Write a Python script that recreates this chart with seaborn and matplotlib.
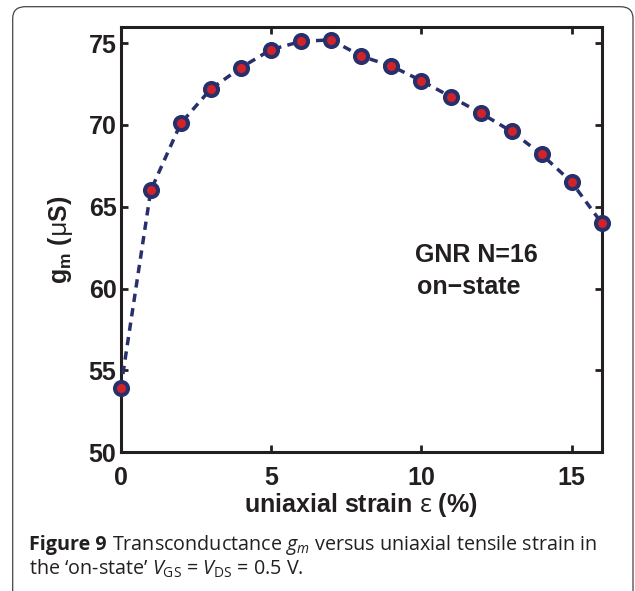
import matplotlib
matplotlib.use("Agg")
import matplotlib.pyplot as plt
from matplotlib.patches import FancyBboxPatch
import seaborn as sns
import pandas as pd

# Transconductance of the GNR (N=16) FET in the on-state vs. uniaxial strain
strain = [0, 1, 2, 3, 4, 5, 6, 7, 8, 9, 10, 11, 12, 13, 14, 15, 16]
gm = [53.9, 66.0, 70.1, 72.2, 73.5, 74.6, 75.1, 75.2, 74.2, 73.6,
      72.7, 71.7, 70.7, 69.6, 68.2, 66.5, 64.0]
x_ticks = [0, 5, 10, 15]
y_ticks = [50, 55, 60, 65, 70, 75]

NAVY = "#28306c"
RED = "#d2232a"
INK = "#231f20"

sns.set_style("ticks")
plt.rcParams["font.family"] = ["Liberation Sans", "DejaVu Sans"]
plt.rcParams["mathtext.fontset"] = "custom"
plt.rcParams["mathtext.rm"] = "Open Sans"
plt.rcParams["mathtext.it"] = "Open Sans:italic"
plt.rcParams["mathtext.bf"] = "Liberation Sans:bold"

W, H = 635, 591
fig = plt.figure(figsize=(W / 100, H / 100), dpi=100)
ax = fig.add_axes([120.7 / W, 1 - 452.3 / H, 481 / W, 425.6 / H])

df = pd.DataFrame({"strain": strain, "gm": gm})
sns.lineplot(data=df, x="strain", y="gm", ax=ax, color=NAVY,
             linewidth=2.5, dashes=False, marker="o", markersize=9.4,
             markerfacecolor=RED, markeredgecolor=NAVY, markeredgewidth=2.9)
curve = ax.lines[0]
curve.set_linestyle((0, (2.4, 1.8)))
curve.set_clip_on(False)
curve.set_zorder(5)

ax.set_xlim(0, 16)
ax.set_ylim(50, 76)
ax.set_xticks(x_ticks)
ax.set_yticks(y_ticks)
ax.tick_params(direction="in", length=5, width=2, top=True, right=True,
               labelsize=18, colors=INK)
ax.tick_params(axis="x", pad=10)
ax.tick_params(axis="y", pad=3)
for lab in ax.get_xticklabels() + ax.get_yticklabels():
    lab.set_fontweight("bold")
for sp in ax.spines.values():
    sp.set_linewidth(2.2)
    sp.set_color(INK)

ax.set_xlabel(r"uniaxial strain $\mathrm{ε}$ (%)", fontsize=18,
              fontweight="bold", color=INK)
ax.set_ylabel(r"$\mathbf{g_m}$ ($\mathrm{μ}$S)", fontsize=18,
              fontweight="bold", color=INK)
ax.xaxis.set_label_coords(0.5, -0.092)
ax.yaxis.set_label_coords(-0.095, 0.5)

ax.text(9.79, 61.62, "GNR N=16", fontsize=18, fontweight="bold", color=INK,
        va="baseline", ha="left")
ax.text(9.85, 59.65, "on\u2212state", fontsize=18, fontweight="bold", color=INK,
        va="baseline", ha="left")

# Rounded frame around the figure panel
frame = FancyBboxPatch((12.7 / W, -30 / H), (633 - 12.7) / W, (H - 6.7 + 30) / H,
                       boxstyle="round,pad=0,rounding_size=0.02",
                       transform=fig.transFigure, facecolor="none",
                       edgecolor="#444444", linewidth=0.9, clip_on=False)
fig.patches.append(frame)

# Caption
cap_kw = dict(fontsize=14.2, family="Open Sans", color=INK, va="baseline")
t1 = fig.text(29.3 / W, 1 - 550 / H, "Figure 9", fontweight="bold", **cap_kw)
fig.text(29.3 / W, 1 - 575 / H,
         r"the ‘on-state’ $V_{\rm GS}$ = $V_{\rm DS}$ = 0.5 V.", **cap_kw)
fig.canvas.draw()
r = fig.canvas.get_renderer()
bb = t1.get_window_extent(r)
fig.text((bb.x1 + 5) / W, 1 - 550 / H,
         r"Transconductance $g_m$ versus uniaxial tensile strain in", **cap_kw)

fig.savefig("out.png", dpi=100)
